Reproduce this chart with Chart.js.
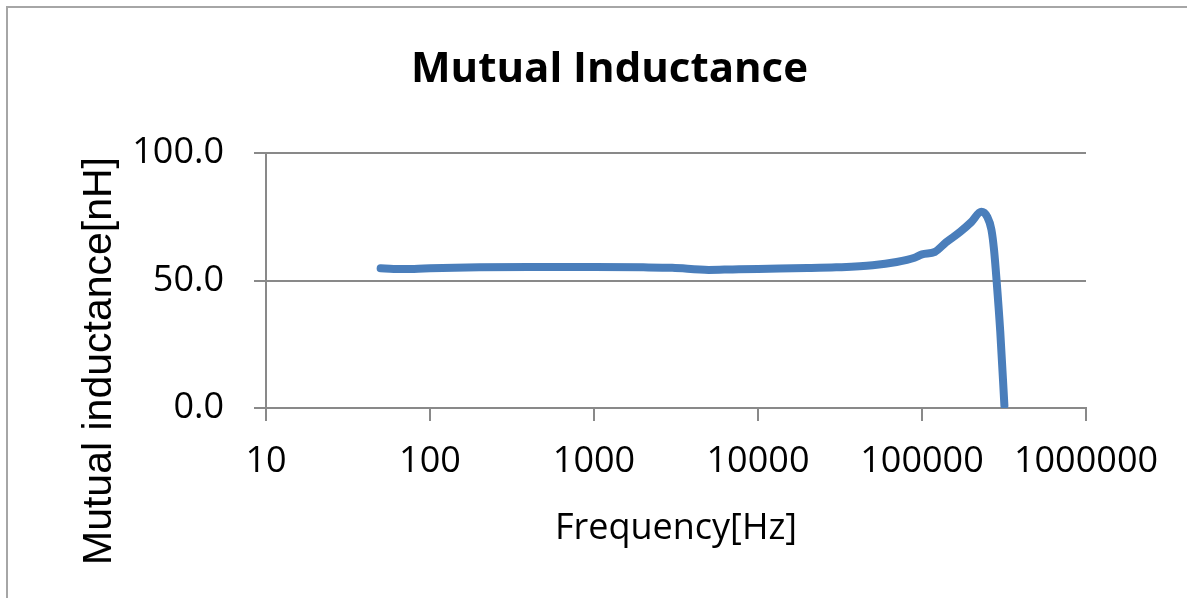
<!DOCTYPE html>
<html lang="en">
<head>
    <meta charset="UTF-8">
    <title>Mutual Inductance</title>
    <script src="https://cdn.jsdelivr.net/npm/chart.js"></script>
    <style>
        html, body { margin: 0; background: #fff; overflow: hidden; }
        #chart { display: block; }
    </style>
</head>
<body>
<canvas id="chart" width="1187" height="598"></canvas>

<script>
    // values
    const frequencies = [50, 60, 80, 100, 200, 500, 1000, 2000, 3000, 5000, 7000, 10000, 20000, 30000,
        50000, 70000, 90000, 100000, 120000, 140000, 170000, 200000, 230000, 250000, 265000, 275000,
        285000, 300000, 318000];
    const inductance = [54.8, 54.6, 54.6, 54.8, 55.2, 55.3, 55.3, 55.2, 55.0, 54.2, 54.4, 54.6, 54.9, 55.2,
        56.0, 57.3, 59.0, 60.3, 61.3, 65.0, 69.0, 73.0, 77.0, 75.0, 70.0, 62.0,
        50.0, 30.0, 1.0];
    const xTicks = [10, 100, 1000, 10000, 100000, 1000000];
    const yTicks = [0, 50, 100];

    const gridGray = '#898989';

    // chart frame (only left and top edges are in view) and the y axis title,
    // which sits lower than the plot centre in the original
    const decorPlugin = {
        id: 'decor',
        beforeDraw(chart) {
            const ctx = chart.ctx;
            ctx.save();
            ctx.strokeStyle = '#a6a6a6';
            ctx.lineWidth = 2;
            ctx.beginPath();
            ctx.moveTo(7, chart.height);
            ctx.lineTo(7, 7);
            ctx.lineTo(chart.width, 7);
            ctx.stroke();
            ctx.restore();
        },
        afterDraw(chart) {
            const ctx = chart.ctx;
            ctx.save();
            ctx.translate(100, 361);
            ctx.rotate(-Math.PI / 2);
            ctx.font = '41px "Liberation Sans", Arial, sans-serif';
            ctx.fillStyle = '#000';
            ctx.textAlign = 'center';
            ctx.textBaseline = 'middle';
            ctx.fillText('Mutual inductance[nH]', 0, 0);
            ctx.restore();
        }
    };

    new Chart(document.getElementById('chart'), {
        type: 'line',
        data: {
            datasets: [{
                data: frequencies.map((f, i) => ({ x: f, y: inductance[i] })),
                borderColor: '#4a7ebb',
                borderWidth: 8,
                borderCapStyle: 'round',
                borderJoinStyle: 'round',
                pointRadius: 0,
                cubicInterpolationMode: 'monotone',
                fill: false
            }]
        },
        plugins: [decorPlugin],
        options: {
            responsive: false,
            animation: false,
            layout: { padding: { left: 133, right: 101, top: 0, bottom: 0 } },
            plugins: {
                legend: { display: false },
                tooltip: { enabled: false },
                title: {
                    display: true,
                    text: 'Mutual Inductance',
                    color: '#000',
                    font: { family: '"Open Sans", sans-serif', size: 42, weight: 'bold', lineHeight: 1.2 },
                    padding: { top: 45, bottom: 57.8 }
                }
            },
            scales: {
                x: {
                    type: 'logarithmic',
                    min: 10,
                    max: 1000000,
                    afterBuildTicks: axis => { axis.ticks = xTicks.map(v => ({ value: v })); },
                    afterFit: axis => { axis.height = 190; },
                    ticks: {
                        color: '#000',
                        font: { family: '"Open Sans", sans-serif', size: 36 },
                        padding: 19,
                        maxRotation: 0,
                        autoSkip: false,
                        callback: v => String(v)
                    },
                    grid: { drawOnChartArea: false, drawTicks: true, tickLength: 13, color: gridGray, lineWidth: 2 },
                    border: { display: true, color: gridGray, width: 2 },
                    title: {
                        display: true,
                        text: 'Frequency[Hz]',
                        color: '#000',
                        font: { family: '"Open Sans", sans-serif', size: 36, lineHeight: 1.2 },
                        padding: { top: 0, bottom: 48 }
                    }
                },
                y: {
                    min: 0,
                    max: 100,
                    afterBuildTicks: axis => { axis.ticks = yTicks.map(v => ({ value: v })); },
                    afterFit: axis => { axis.width = 133; },
                    ticks: {
                        color: '#000',
                        font: { family: '"Open Sans", sans-serif', size: 36 },
                        padding: 30,
                        callback: v => v.toFixed(1)
                    },
                    grid: { color: gridGray, lineWidth: 2, tickLength: 12 },
                    border: { display: true, color: gridGray, width: 2 }
                }
            }
        }
    });
</script>
</body>
</html>
